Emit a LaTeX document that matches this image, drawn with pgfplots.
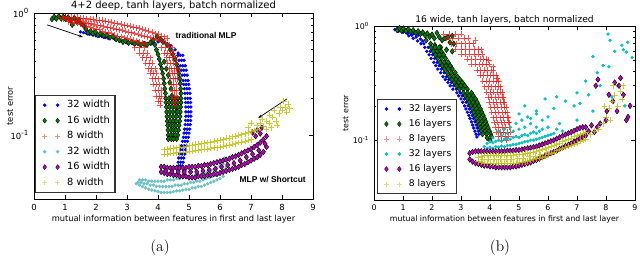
\documentclass[border=0pt]{standalone}
\usepackage{pgfplots}
\pgfplotsset{compat=1.18}
\usepackage{fontspec}
\newfontfamily\djv{DejaVu Sans}
\newfontfamily\lib{Liberation Sans}
\usetikzlibrary{arrows.meta}
\definecolor{mblue}{rgb}{0,0,1}
\definecolor{mgreen}{rgb}{0,0.5,0}
\definecolor{mred}{rgb}{1,0,0}
\definecolor{mcyanA}{rgb}{0.42,0.76,0.76}
\definecolor{mcyan}{rgb}{0.05,0.75,0.75}
\definecolor{mmag}{rgb}{0.75,0,0.75}
\definecolor{myel}{rgb}{0.75,0.75,0}
\pgfplotsset{
  sblue/.style={only marks, mark=*, mark size=1.0pt, mark options={fill=mblue, draw=mblue},
    legend image code/.code={\path (-4pt,0pt) (14pt,0pt);\draw[only marks, mark=*, mark size=0.8pt, mark options={fill=mblue, draw=mblue}] plot coordinates {(0pt,0pt) (9.2pt,0pt)};}},
  scyanA/.style={only marks, mark=*, mark size=1.0pt, mark options={fill=mcyanA, draw=mcyanA},
    legend image code/.code={\path (-4pt,0pt) (14pt,0pt);\draw[only marks, mark=*, mark size=0.8pt, mark options={fill=mcyanA, draw=mcyanA}] plot coordinates {(0pt,0pt) (9.2pt,0pt)};}},
  scyan/.style={only marks, mark=*, mark size=1.0pt, mark options={fill=mcyan, draw=mcyan},
    legend image code/.code={\path (-4pt,0pt) (14pt,0pt);\draw[only marks, mark=*, mark size=0.8pt, mark options={fill=mcyan, draw=mcyan}] plot coordinates {(0pt,0pt) (9.2pt,0pt)};}},
  sgreen/.style={only marks, mark=diamond*, mark size=2.0pt, mark options={fill=mgreen, draw=black, line width=0.3pt},
    legend image code/.code={\path (-4pt,0pt) (14pt,0pt);\draw[only marks, mark=diamond*, mark size=1.8pt, mark options={fill=mgreen, draw=black, line width=0.2pt}] plot coordinates {(0pt,0pt) (9.2pt,0pt)};}},
  smag/.style={only marks, mark=diamond*, mark size=2.0pt, mark options={fill=mmag, draw=black, line width=0.3pt},
    legend image code/.code={\path (-4pt,0pt) (14pt,0pt);\draw[only marks, mark=diamond*, mark size=1.8pt, mark options={fill=mmag, draw=black, line width=0.2pt}] plot coordinates {(0pt,0pt) (9.2pt,0pt)};}},
  sred/.style={only marks, mark=+, mark size=2.1pt, mark options={draw=mred, line width=0.4pt, opacity=0.7},
    legend image code/.code={\path (-4pt,0pt) (14pt,0pt);\draw[only marks, mark=+, mark size=1.8pt, mark options={draw=mred!45, line width=0.4pt}] plot coordinates {(0pt,0pt) (9.2pt,0pt)};}},
  syel/.style={only marks, mark=+, mark size=2.1pt, mark options={draw=myel, line width=0.4pt, opacity=0.8},
    legend image code/.code={\path (-4pt,0pt) (14pt,0pt);\draw[only marks, mark=+, mark size=1.8pt, mark options={draw=myel!50, line width=0.4pt}] plot coordinates {(0pt,0pt) (9.2pt,0pt)};}},
}
\begin{document}
\begin{tikzpicture}
\path[use as bounding box] (0,0) rectangle (16cm,6.4cm);
% ---------------- (a) ----------------
\begin{axis}[
  scale only axis,
  xmin=0, xmax=9, ymode=log, ymin=0.03, ymax=1,
  xtick={0,1,2,3,4,5,6,7,8,9},
  ytick={0.1,1},
  yticklabels={10\textsuperscript{-1},10\textsuperscript{0}},
  /pgf/number format/assume math mode=true,
  major tick length=3pt, minor tick length=1.6pt,
  tick style={black, line width=0.4pt},
  axis line style={line width=0.5pt},
  legend cell align=left,
  at={(0.85cm,1.425cm)}, anchor=south west, width=6.975cm, height=4.65cm,
  tick label style={font=\djv\fontsize{6}{7}\selectfont},
  title={4+2 deep, tanh layers, batch normalized},
  every axis title/.style={at={(0.5,1)}, anchor=base, yshift=3.2pt, font=\djv\fontsize{7.1}{8.5}\selectfont},
  xlabel={mutual information between features in first and last layer},
  ylabel={test error},
  every axis x label/.style={at={(0.5,0)}, anchor=base, yshift=-16.3pt, font=\djv\fontsize{5.9}{7}\selectfont},
  every axis y label/.style={at={(0,0.5)}, xshift=-17pt, rotate=90, anchor=center, font=\djv\fontsize{5.9}{7}\selectfont},
  legend style={font=\djv\fontsize{7}{8}\selectfont, at={(0.004,0.032)}, anchor=south west,
    draw=black!80, line width=0.8pt, fill=white, row sep=1.0pt, nodes={inner sep=1.6pt}, inner sep=2pt},
]
\addplot[sblue] coordinates {
(1.5,0.70)(1.6,0.69)(1.7,0.68)(1.8,0.67)(1.9,0.66)(2.0,0.65)(2.1,0.645)(2.2,0.64)(2.3,0.63)(2.4,0.62)(2.6,0.61)(2.8,0.59)(3.0,0.57)(3.2,0.56)(3.4,0.55)(3.6,0.54)(3.8,0.56)(4.0,0.58)(4.2,0.57)(4.4,0.54)(4.55,0.50)(4.65,0.47)
(4.64,0.45)(4.72,0.45)(4.80,0.45)(4.68,0.41)(4.76,0.41)(4.84,0.41)(4.72,0.37)(4.80,0.37)(4.88,0.37)(4.75,0.34)(4.83,0.34)(4.91,0.34)
(4.78,0.31)(4.86,0.31)(4.94,0.31)(4.81,0.28)(4.89,0.28)(4.97,0.28)(4.83,0.26)(4.91,0.26)(4.99,0.26)(4.85,0.24)(4.93,0.24)(5.01,0.24)
(4.87,0.22)(4.95,0.22)(5.03,0.22)(4.88,0.20)(4.96,0.20)(5.04,0.20)(4.89,0.185)(4.97,0.185)(5.05,0.185)(4.90,0.17)(4.98,0.17)(5.06,0.17)
(4.90,0.155)(4.98,0.155)(5.06,0.155)(4.90,0.143)(4.98,0.143)(5.06,0.143)(4.89,0.132)(4.97,0.132)(5.05,0.132)(4.88,0.122)(4.96,0.122)(5.04,0.122)
(4.86,0.112)(4.94,0.112)(5.02,0.112)(4.84,0.104)(4.92,0.104)(5.00,0.104)(4.82,0.096)(4.90,0.096)(4.98,0.096)(4.79,0.089)(4.87,0.089)(4.95,0.089)
(4.76,0.082)(4.84,0.082)(4.92,0.082)(4.73,0.076)(4.81,0.076)(4.89,0.076)(4.70,0.070)(4.78,0.070)(4.86,0.070)(4.67,0.065)(4.75,0.065)(4.83,0.065)
(4.65,0.060)(4.73,0.060)(4.81,0.060)(4.66,0.056)(4.72,0.056)(4.78,0.056)
};
\addlegendentry{32 width}
\addplot[sgreen] coordinates {
(0.58,0.89)(0.65,0.93)(0.72,0.90)(0.8,0.94)(0.88,0.90)(0.95,0.93)(1.02,0.89)(1.1,0.92)(1.18,0.87)(1.23,0.80)(1.3,0.91)(1.38,0.85)(1.45,0.88)(1.52,0.82)(1.6,0.79)(1.67,0.74)(1.74,0.69)(1.82,0.71)(1.9,0.68)(1.98,0.70)(2.06,0.66)(2.15,0.68)(2.25,0.65)(2.35,0.66)(2.45,0.63)(2.55,0.64)(2.65,0.61)(2.75,0.60)(2.87,0.58)(2.95,0.59)(3.05,0.57)(3.15,0.58)(3.25,0.56)(3.35,0.57)(3.45,0.55)(3.55,0.56)(3.65,0.55)(3.75,0.57)(3.85,0.60)(3.97,0.64)(4.08,0.61)(4.16,0.58)
(3.9,0.55)(3.95,0.50)(4.0,0.46)(4.04,0.42)(4.08,0.38)(4.12,0.35)(4.15,0.32)(4.18,0.29)(4.2,0.265)(4.22,0.24)(4.24,0.22)(4.25,0.20)(4.26,0.185)(4.27,0.17)(4.28,0.155)(4.29,0.142)(4.3,0.13)(4.31,0.12)(4.32,0.11)(4.33,0.10)(4.33,0.093)
(4.3,0.55)(4.4,0.50)(4.48,0.46)(4.55,0.42)(4.6,0.38)(4.64,0.35)(4.67,0.32)(4.7,0.29)(4.72,0.265)(4.73,0.24)(4.74,0.22)(4.74,0.20)(4.74,0.185)(4.73,0.17)(4.72,0.155)(4.71,0.142)(4.7,0.13)(4.68,0.12)(4.66,0.11)(4.64,0.10)(4.6,0.093)
(4.2,0.40)(4.27,0.35)(4.33,0.31)(4.38,0.27)(4.42,0.24)(4.45,0.21)
(4.35,0.20)(4.45,0.20)(4.55,0.20)(4.64,0.20)(4.36,0.185)(4.46,0.185)(4.56,0.185)(4.64,0.185)(4.37,0.17)(4.47,0.17)(4.57,0.17)(4.64,0.17)
(4.38,0.155)(4.48,0.155)(4.58,0.155)(4.63,0.155)(4.39,0.142)(4.49,0.142)(4.59,0.142)(4.4,0.13)(4.5,0.13)(4.59,0.13)
(4.41,0.12)(4.5,0.12)(4.58,0.12)(4.42,0.11)(4.5,0.11)(4.57,0.11)(4.42,0.10)(4.5,0.10)(4.56,0.10)(4.43,0.093)(4.5,0.093)
};
\addlegendentry{16 width}
\addplot[sred] coordinates {
(0.9,0.93)(1.0,0.93)(1.1,0.93)(1.2,0.93)(1.3,0.92)(1.4,0.92)(1.5,0.91)(1.6,0.91)(1.7,0.90)(1.8,0.89)(1.9,0.89)(2.0,0.88)(2.1,0.87)(2.2,0.87)(2.3,0.86)(2.4,0.85)(2.5,0.84)(2.6,0.83)(2.7,0.82)(2.8,0.81)(2.9,0.80)(3.0,0.79)(3.1,0.78)(3.2,0.77)(3.3,0.76)(3.4,0.75)(3.5,0.74)(3.6,0.72)(3.7,0.71)(3.8,0.70)(3.9,0.68)(4.0,0.67)(4.1,0.65)(4.2,0.64)(4.3,0.62)
(0.95,0.89)(1.05,0.89)(1.15,0.88)(1.25,0.87)(1.35,0.87)(1.45,0.86)(1.55,0.85)(1.65,0.84)(1.75,0.83)(1.85,0.82)(1.95,0.81)(2.05,0.80)(2.15,0.79)(2.25,0.78)(2.35,0.77)(2.45,0.76)(2.55,0.75)(2.65,0.74)(2.75,0.73)(2.85,0.72)(2.95,0.71)(3.05,0.70)(3.15,0.69)(3.25,0.68)(3.35,0.67)(3.45,0.66)(3.55,0.65)(3.65,0.64)(3.75,0.63)(3.85,0.62)(3.95,0.61)(4.05,0.60)(4.15,0.59)(4.25,0.57)(4.35,0.55)
(1.1,0.85)(1.2,0.84)(1.3,0.83)(1.4,0.82)(1.5,0.81)(1.6,0.80)(1.7,0.78)(1.8,0.77)(1.9,0.75)(2.0,0.74)(2.1,0.73)(2.2,0.71)(2.3,0.70)(2.4,0.69)(2.5,0.68)(2.6,0.66)(2.7,0.65)(2.8,0.64)(2.9,0.63)(3.0,0.62)(3.1,0.61)(3.2,0.60)(3.3,0.59)(3.4,0.58)(3.5,0.57)(3.6,0.56)
(3.25,0.52)(3.4,0.52)(3.55,0.52)(3.4,0.47)(3.52,0.47)(3.65,0.47)(3.5,0.43)(3.62,0.43)(3.75,0.43)(3.6,0.39)(3.71,0.39)(3.82,0.39)
(3.68,0.35)(3.79,0.35)(3.9,0.35)(3.75,0.32)(3.85,0.32)(3.95,0.32)(3.8,0.29)(3.9,0.29)(4.0,0.29)(3.85,0.26)(3.95,0.26)(4.05,0.26)
(3.9,0.235)(4.0,0.235)(4.1,0.235)(3.95,0.21)(4.04,0.21)(4.12,0.21)(4.0,0.19)(4.08,0.19)(4.06,0.175)
(4.1,0.52)(4.22,0.52)(4.34,0.52)(4.45,0.52)(4.2,0.47)(4.3,0.47)(4.4,0.47)(4.5,0.47)(4.28,0.43)(4.37,0.43)(4.46,0.43)(4.55,0.43)
(4.3,0.39)(4.39,0.39)(4.48,0.39)(4.58,0.39)(4.35,0.35)(4.43,0.35)(4.52,0.35)(4.6,0.35)(4.38,0.32)(4.46,0.32)(4.54,0.32)(4.62,0.32)
(4.4,0.29)(4.48,0.29)(4.56,0.29)(4.62,0.29)(4.42,0.26)(4.5,0.26)(4.58,0.26)(4.45,0.235)(4.52,0.235)(4.6,0.235)
(4.47,0.21)(4.54,0.21)(4.6,0.21)(4.5,0.19)(4.57,0.19)(4.54,0.175)
};
\addlegendentry{8 width}
\addplot[scyanA] coordinates {
(3.3,0.040)(3.4,0.039)(3.5,0.038)(3.6,0.037)(3.7,0.036)(3.8,0.0355)(3.9,0.035)(4.0,0.0345)(4.1,0.034)(4.2,0.034)(4.3,0.034)(4.4,0.034)(4.5,0.0345)(4.6,0.035)(4.7,0.035)(4.8,0.0355)(4.9,0.036)(5.0,0.036)(5.1,0.037)(5.2,0.037)(5.3,0.038)(5.4,0.038)(5.5,0.039)(5.6,0.040)(5.7,0.041)(5.8,0.042)(5.9,0.043)(6.0,0.044)(6.1,0.046)
(3.35,0.041)(3.45,0.041)(3.55,0.040)(3.65,0.040)(3.75,0.039)(3.85,0.039)(3.95,0.038)(4.05,0.038)(4.15,0.038)(4.25,0.038)(4.35,0.038)(4.45,0.038)(4.55,0.039)(4.65,0.039)(4.75,0.039)(4.85,0.040)(4.95,0.040)(5.05,0.041)(5.15,0.041)(5.25,0.042)(5.35,0.042)(5.45,0.043)(5.55,0.044)(5.65,0.045)(5.75,0.046)(5.85,0.047)(5.95,0.048)(6.05,0.050)(6.15,0.052)(6.2,0.055)
(3.4,0.043)(3.5,0.043)(3.6,0.043)(3.7,0.042)(3.8,0.042)(3.9,0.042)(4.0,0.042)(4.1,0.042)(4.2,0.042)(4.3,0.043)(4.4,0.043)(4.5,0.043)(4.6,0.044)(4.7,0.044)(4.8,0.045)(4.9,0.045)(5.0,0.046)(5.1,0.046)(5.2,0.047)(5.3,0.047)(5.4,0.048)(5.5,0.049)(5.6,0.050)(5.7,0.051)(5.8,0.052)(5.9,0.054)(6.0,0.056)(6.1,0.058)(6.2,0.062)(6.15,0.065)(6.05,0.060)
};
\addlegendentry{32 width}
\addplot[smag] coordinates {
(4.1,0.050)(4.2,0.049)(4.3,0.048)(4.4,0.048)(4.5,0.047)(4.6,0.047)(4.7,0.046)(4.8,0.046)(4.9,0.046)(5.0,0.045)(5.1,0.045)(5.2,0.045)(5.3,0.046)(5.4,0.046)(5.5,0.046)(5.6,0.047)(5.7,0.047)(5.8,0.048)(5.9,0.048)(6.0,0.049)(6.1,0.050)(6.2,0.051)(6.3,0.052)(6.4,0.053)(6.5,0.054)(6.6,0.055)(6.7,0.057)(6.8,0.058)(6.9,0.060)(7.0,0.062)(7.1,0.064)(7.2,0.066)(7.3,0.069)(7.4,0.073)(7.5,0.080)
(4.1,0.055)(4.2,0.055)(4.3,0.054)(4.4,0.054)(4.5,0.054)(4.6,0.054)(4.7,0.054)(4.8,0.054)(4.9,0.054)(5.0,0.055)(5.1,0.055)(5.2,0.055)(5.3,0.056)(5.4,0.056)(5.5,0.057)(5.6,0.057)(5.7,0.058)(5.8,0.059)(5.9,0.060)(6.0,0.061)(6.1,0.062)(6.2,0.063)(6.3,0.064)(6.4,0.066)(6.5,0.067)(6.6,0.069)(6.7,0.071)(6.8,0.073)(6.9,0.075)(7.0,0.077)(7.1,0.080)(7.2,0.083)(7.3,0.087)(7.4,0.092)(7.5,0.098)
(4.25,0.051)(4.45,0.050)(4.65,0.050)(4.85,0.050)(5.05,0.050)(5.25,0.050)(5.45,0.051)(5.65,0.052)(5.85,0.053)(6.05,0.055)(6.25,0.057)(6.45,0.059)(6.65,0.062)(6.85,0.066)(7.05,0.070)(7.25,0.075)(7.45,0.085)
(7.05,0.105)(7.2,0.11)(7.35,0.115)(7.3,0.103)(7.15,0.098)
};
\addlegendentry{16 width}
\addplot[syel] coordinates {
(4.2,0.070)(4.3,0.070)(4.4,0.071)(4.5,0.071)(4.6,0.072)(4.7,0.072)(4.8,0.073)(4.9,0.073)(5.0,0.074)(5.1,0.074)(5.2,0.075)(5.3,0.075)(5.4,0.076)(5.5,0.077)(5.6,0.077)(5.7,0.078)(5.8,0.079)(5.9,0.079)(6.0,0.080)(6.1,0.081)(6.2,0.082)(6.3,0.083)(6.4,0.084)(6.5,0.085)(6.6,0.087)(6.7,0.088)(6.8,0.089)(6.9,0.091)(7.0,0.092)
(4.2,0.076)(4.3,0.077)(4.4,0.078)(4.5,0.078)(4.6,0.079)(4.7,0.080)(4.8,0.080)(4.9,0.081)(5.0,0.082)(5.1,0.083)(5.2,0.084)(5.3,0.084)(5.4,0.085)(5.5,0.086)(5.6,0.087)(5.7,0.088)(5.8,0.089)(5.9,0.090)(6.0,0.091)(6.1,0.092)(6.2,0.094)(6.3,0.095)(6.4,0.097)(6.5,0.098)(6.6,0.100)(6.7,0.101)(6.8,0.103)(6.9,0.105)(7.0,0.107)(7.1,0.109)(7.2,0.111)
(7.2,0.12)(7.4,0.118)(7.5,0.13)(7.6,0.125)(7.7,0.14)(7.8,0.13)(7.9,0.15)(8.0,0.16)(8.1,0.17)(8.2,0.18)(8.15,0.155)(7.95,0.17)(7.6,0.145)(7.35,0.135)(7.75,0.16)(8.05,0.19)(7.0,0.125)(6.9,0.115)(7.5,0.112)(7.85,0.12)(8.25,0.165)(7.3,0.125)(7.65,0.115)
};
\addlegendentry{8 width}
\draw[-{Stealth[length=3pt,width=2pt]}, line width=0.5pt] (axis cs:0.42,0.80) -- (axis cs:1.58,0.636);
\draw[-{Stealth[length=3pt,width=2pt]}, line width=0.5pt] (axis cs:8.16,0.198) -- (axis cs:7.23,0.138);
\node[font=\lib\bfseries\fontsize{6}{7}\selectfont] at (axis cs:5.55,0.66) {traditional MLP};
\node[font=\lib\bfseries\fontsize{6}{7}\selectfont] at (axis cs:7.7,0.043) {MLP w/ Shortcut};
\end{axis}
% ---------------- (b) ----------------
\begin{axis}[
  scale only axis,
  xmin=0, xmax=9, ymode=log, ymin=0.03, ymax=1,
  xtick={0,1,2,3,4,5,6,7,8,9},
  ytick={0.1,1},
  yticklabels={10\textsuperscript{-1},10\textsuperscript{0}},
  /pgf/number format/assume math mode=true,
  major tick length=3pt, minor tick length=1.6pt,
  tick style={black, line width=0.4pt},
  axis line style={line width=0.5pt},
  legend cell align=left,
  at={(9.35cm,1.4cm)}, anchor=south west, width=6.525cm, height=4.35cm,
  tick label style={font=\djv\fontsize{5.6}{6.5}\selectfont},
  title={16 wide, tanh layers, batch normalized},
  every axis title/.style={at={(0.5,1)}, anchor=base, yshift=2.8pt, font=\djv\fontsize{6.5}{8}\selectfont},
  xlabel={mutual information between features in first and last layer},
  ylabel={test error},
  every axis x label/.style={at={(0.5,0)}, anchor=base, yshift=-15.2pt, font=\djv\fontsize{5.55}{6.5}\selectfont},
  every axis y label/.style={at={(0,0.5)}, xshift=-20.2pt, rotate=90, anchor=center, font=\djv\fontsize{5.55}{6.5}\selectfont},
  legend style={font=\djv\fontsize{6.55}{7.5}\selectfont, at={(0.011,0.034)}, anchor=south west,
    draw=black!80, line width=0.8pt, fill=white, row sep=1.2pt, nodes={inner sep=1.5pt}, inner sep=2pt},
]
\addplot[sblue] coordinates {
(0.72,0.93)(0.8,0.95)(0.85,0.90)(0.92,0.94)(1.0,0.88)(1.08,0.91)(1.15,0.86)(1.22,0.89)(1.3,0.83)(1.38,0.86)(1.45,0.80)(1.52,0.83)(1.6,0.77)(1.68,0.74)(1.72,0.70)(1.2,0.82)(1.35,0.78)(1.5,0.74)(1.62,0.70)
(1.75,0.65)(1.87,0.65)(1.82,0.60)(1.94,0.60)(1.9,0.56)(2.02,0.56)(1.97,0.52)(2.09,0.52)(2.06,0.48)(2.18,0.48)(2.13,0.45)(2.25,0.45)(2.2,0.42)(2.32,0.42)(2.3,0.39)(2.42,0.39)
(2.38,0.36)(2.5,0.36)(2.46,0.34)(2.58,0.34)(2.55,0.32)(2.67,0.32)(2.63,0.30)(2.75,0.30)(2.72,0.28)(2.84,0.28)(2.86,0.26)(2.98,0.26)(2.92,0.245)(3.04,0.245)(3.0,0.23)(3.12,0.23)
(3.06,0.215)(3.18,0.215)(3.12,0.20)(3.24,0.20)(3.17,0.188)(3.29,0.188)(3.22,0.176)(3.34,0.176)(3.27,0.165)(3.39,0.165)(3.31,0.155)(3.43,0.155)(3.36,0.145)(3.48,0.145)
(3.4,0.136)(3.52,0.136)(3.44,0.128)(3.56,0.128)(3.48,0.12)(3.6,0.12)(3.52,0.113)(3.62,0.113)(3.55,0.107)
};
\addlegendentry{32 layers}
\addplot[sgreen] coordinates {
(0.8,0.92)(0.88,0.96)(0.95,0.91)(1.02,0.95)(1.1,0.90)(1.18,0.94)(1.26,0.89)(1.35,0.92)(1.44,0.87)(1.52,0.90)(1.6,0.85)(1.68,0.88)(1.76,0.83)(1.84,0.86)(1.92,0.80)(2.0,0.84)(2.08,0.78)(2.17,0.87)(2.25,0.80)(2.35,0.75)(2.45,0.78)(2.55,0.80)(2.62,0.72)(2.7,0.82)(2.75,0.70)(1.8,0.75)(1.95,0.70)(2.1,0.68)(2.3,0.65)(2.5,0.62)(2.7,0.60)
(1.97,0.65)(2.11,0.65)(2.25,0.65)(2.04,0.60)(2.18,0.60)(2.32,0.60)(2.12,0.56)(2.26,0.56)(2.4,0.56)(2.19,0.52)(2.33,0.52)(2.47,0.52)
(2.28,0.48)(2.42,0.48)(2.56,0.48)(2.35,0.45)(2.49,0.45)(2.63,0.45)(2.42,0.42)(2.56,0.42)(2.7,0.42)(2.52,0.39)(2.66,0.39)(2.8,0.39)
(2.6,0.36)(2.74,0.36)(2.88,0.36)(2.68,0.34)(2.82,0.34)(2.96,0.34)(2.77,0.32)(2.91,0.32)(3.05,0.32)(2.85,0.30)(2.99,0.30)(3.13,0.30)
(2.94,0.28)(3.08,0.28)(3.22,0.28)(3.08,0.26)(3.22,0.26)(3.36,0.26)(3.14,0.245)(3.28,0.245)(3.42,0.245)(3.22,0.23)(3.36,0.23)(3.5,0.23)
(3.28,0.215)(3.42,0.215)(3.56,0.215)(3.34,0.20)(3.48,0.20)(3.62,0.20)(3.39,0.188)(3.53,0.188)(3.67,0.188)(3.44,0.176)(3.58,0.176)(3.72,0.176)
(3.49,0.165)(3.63,0.165)(3.77,0.165)(3.53,0.155)(3.67,0.155)(3.81,0.155)(3.58,0.145)(3.72,0.145)(3.86,0.145)(3.62,0.136)(3.76,0.136)(3.9,0.136)
(3.66,0.128)(3.8,0.128)(3.94,0.128)(3.7,0.12)(3.84,0.12)(3.98,0.12)(3.74,0.113)(3.88,0.113)(4.02,0.113)(3.9,0.105)(4.0,0.10)(4.05,0.108)
};
\addlegendentry{16 layers}
\addplot[sred] coordinates {
(2.4,0.85)(2.6,0.85)(2.8,0.85)(3.0,0.85)(3.5,0.75)(3.7,0.62)(3.95,0.50)(4.1,0.44)(4.25,0.35)
(2.5,0.78)(2.7,0.78)(2.9,0.78)(3.1,0.78)(3.25,0.78)
(2.65,0.70)(2.85,0.70)(3.0,0.70)(3.15,0.70)(3.3,0.70)(3.42,0.70)
(2.8,0.63)(3.0,0.63)(3.15,0.63)(3.3,0.63)(3.45,0.63)(3.58,0.63)
(3.0,0.57)(3.15,0.57)(3.3,0.57)(3.45,0.57)(3.6,0.57)(3.72,0.57)
(3.2,0.51)(3.35,0.51)(3.5,0.51)(3.65,0.51)(3.78,0.51)(3.88,0.51)
(3.35,0.46)(3.5,0.46)(3.62,0.46)(3.75,0.46)(3.86,0.46)(3.96,0.46)
(3.55,0.41)(3.67,0.41)(3.79,0.41)(3.91,0.41)(4.03,0.41)(4.12,0.41)
(3.65,0.37)(3.77,0.37)(3.89,0.37)(4.01,0.37)(4.13,0.37)(4.22,0.37)
(3.75,0.33)(3.87,0.33)(3.99,0.33)(4.11,0.33)(4.23,0.33)(4.3,0.33)
(3.82,0.295)(3.94,0.295)(4.06,0.295)(4.18,0.295)(4.3,0.295)(4.36,0.295)
(3.88,0.265)(4.0,0.265)(4.12,0.265)(4.24,0.265)(4.36,0.265)(4.42,0.265)
(3.93,0.24)(4.05,0.24)(4.17,0.24)(4.29,0.24)(4.41,0.24)(4.46,0.24)
(3.98,0.215)(4.1,0.215)(4.22,0.215)(4.34,0.215)(4.46,0.215)(4.5,0.215)
(4.02,0.195)(4.14,0.195)(4.26,0.195)(4.38,0.195)(4.5,0.195)(4.55,0.195)
(4.06,0.175)(4.18,0.175)(4.3,0.175)(4.42,0.175)(4.54,0.175)(4.6,0.175)
(4.1,0.158)(4.22,0.158)(4.34,0.158)(4.46,0.158)(4.58,0.158)(4.63,0.158)
(4.14,0.143)(4.26,0.143)(4.38,0.143)(4.5,0.143)(4.62,0.143)(4.66,0.143)
(4.18,0.13)(4.3,0.13)(4.42,0.13)(4.54,0.13)(4.66,0.13)
(4.22,0.118)(4.34,0.118)(4.46,0.118)(4.58,0.118)(4.7,0.118)
(4.28,0.108)(4.4,0.108)(4.52,0.108)(4.64,0.108)(4.4,0.10)(4.55,0.10)
};
\addlegendentry{8 layers}
\addplot[scyan] coordinates {
(3.8,0.088)(3.9,0.085)(4.0,0.087)(4.1,0.085)(4.2,0.088)(4.3,0.087)(4.4,0.089)(4.5,0.088)(4.6,0.090)(4.7,0.090)(4.8,0.092)(4.9,0.092)(5.0,0.094)(5.1,0.095)(5.2,0.097)(5.3,0.098)(5.4,0.100)(5.5,0.100)(5.6,0.102)(5.7,0.104)(5.8,0.106)(5.9,0.108)(6.0,0.110)(6.1,0.112)(6.2,0.115)
(3.9,0.094)(4.0,0.097)(4.1,0.095)(4.2,0.098)(4.3,0.100)(4.4,0.098)(4.5,0.102)(4.6,0.104)(4.7,0.102)(4.8,0.106)(4.9,0.108)(5.0,0.106)(5.1,0.110)(5.2,0.112)(5.3,0.110)(5.4,0.115)(5.5,0.118)(5.6,0.115)(5.7,0.120)
(4.4,0.11)(4.6,0.115)(4.8,0.12)(5.0,0.125)(4.5,0.125)(4.7,0.13)(4.9,0.14)(5.2,0.13)(5.4,0.14)(5.1,0.15)(5.3,0.16)(4.3,0.12)(4.1,0.105)(5.6,0.13)(5.8,0.125)(6.0,0.13)(6.3,0.125)(6.5,0.12)
(5.4,0.155)(5.6,0.17)(5.6,0.18)(5.8,0.15)(6.0,0.16)(6.2,0.19)(6.4,0.14)(6.6,0.22)(6.8,0.12)(6.9,0.20)(7.0,0.26)(7.0,0.15)(7.1,0.21)(7.55,0.18)(7.55,0.54)(7.7,0.39)(7.8,0.30)(7.9,0.45)(8.07,0.85)(8.1,0.44)(8.14,0.75)(8.3,0.60)(8.55,0.68)(8.6,0.62)(8.7,0.59)(8.75,0.72)(8.9,0.53)(5.0,0.17)(5.2,0.20)(6.3,0.24)(5.9,0.23)(7.3,0.33)(8.4,0.30)(8.65,0.20)(8.2,0.24)(7.4,0.25)
};
\addlegendentry{32 layers}
\addplot[smag] coordinates {
(3.3,0.068)(3.4,0.065)(3.5,0.063)(3.6,0.062)(3.7,0.061)(3.8,0.060)(3.9,0.060)(4.0,0.059)(4.1,0.059)(4.2,0.058)(4.3,0.058)(4.4,0.058)(4.5,0.058)(4.6,0.058)(4.7,0.058)(4.8,0.059)(4.9,0.059)(5.0,0.060)(5.1,0.061)(5.2,0.062)(5.3,0.063)(5.4,0.064)(5.5,0.066)(5.6,0.067)(5.7,0.069)(5.8,0.071)(5.9,0.073)(6.0,0.075)(6.1,0.077)(6.2,0.079)(6.3,0.081)(6.4,0.084)(6.5,0.086)(6.6,0.089)(6.7,0.091)(6.8,0.094)(6.9,0.097)(7.0,0.100)(7.1,0.104)(7.2,0.107)(7.3,0.110)
(3.3,0.077)(3.4,0.079)(3.5,0.080)(3.6,0.080)(3.7,0.080)(3.8,0.080)(3.9,0.080)(4.0,0.080)(4.1,0.080)(4.2,0.080)(4.3,0.080)(4.4,0.080)(4.5,0.080)(4.6,0.081)(4.7,0.081)(4.8,0.081)(4.9,0.082)(5.0,0.082)(5.1,0.083)(5.2,0.084)(5.3,0.085)(5.4,0.086)(5.5,0.087)(5.6,0.088)(5.7,0.090)(5.8,0.092)(5.9,0.094)(6.0,0.096)(6.1,0.098)(6.2,0.100)(6.3,0.103)(6.4,0.106)(6.5,0.109)(6.6,0.112)(6.7,0.115)(6.8,0.118)(6.9,0.121)(7.0,0.125)(7.1,0.128)(7.2,0.130)(7.3,0.130)
(7.4,0.12)(7.5,0.135)(7.6,0.118)(7.7,0.13)(7.8,0.14)(8.0,0.15)
(7.72,0.34)(8.3,0.32)(8.45,0.30)(8.38,0.18)(8.76,0.16)(8.83,0.20)(8.03,0.18)(8.24,0.22)(8.7,0.15)(8.6,0.25)(7.65,0.30)(8.1,0.25)(8.5,0.35)
};
\addlegendentry{16 layers}
\addplot[syel] coordinates {
(3.6,0.065)(3.7,0.064)(3.8,0.063)(3.9,0.063)(4.0,0.063)(4.1,0.063)(4.2,0.063)(4.3,0.063)(4.4,0.063)(4.5,0.063)(4.6,0.063)(4.7,0.063)(4.8,0.063)(4.9,0.063)(5.0,0.064)(5.1,0.064)(5.2,0.065)(5.3,0.066)(5.4,0.067)(5.5,0.068)(5.6,0.069)(5.7,0.070)(5.8,0.071)(5.9,0.073)(6.0,0.075)(6.1,0.077)(6.2,0.079)(6.3,0.081)(6.4,0.083)(6.5,0.085)(6.6,0.087)(6.7,0.089)(6.8,0.091)(6.9,0.093)(7.0,0.095)(7.1,0.098)(7.2,0.100)(7.3,0.103)
(3.6,0.071)(3.7,0.073)(3.8,0.074)(3.9,0.074)(4.0,0.074)(4.1,0.074)(4.2,0.074)(4.3,0.074)(4.4,0.074)(4.5,0.074)(4.6,0.074)(4.7,0.074)(4.8,0.074)(4.9,0.075)(5.0,0.075)(5.1,0.076)(5.2,0.077)(5.3,0.077)(5.4,0.078)(5.5,0.079)(5.6,0.080)(5.7,0.081)(5.8,0.083)(5.9,0.085)(6.0,0.087)(6.1,0.089)(6.2,0.091)(6.3,0.093)(6.4,0.095)(6.5,0.098)(6.6,0.100)(6.7,0.103)(6.8,0.105)(6.9,0.108)(7.0,0.110)(7.1,0.112)(7.2,0.115)(7.3,0.117)
(3.75,0.068)(3.95,0.068)(4.15,0.068)(4.35,0.068)(4.55,0.068)(4.75,0.068)(4.95,0.069)(5.15,0.070)(5.35,0.072)(5.55,0.073)(5.75,0.075)(5.95,0.079)
(7.45,0.112)(7.6,0.12)(7.75,0.125)(7.9,0.14)(8.0,0.16)(8.1,0.19)(8.2,0.22)(8.3,0.25)(8.4,0.20)(8.5,0.27)(8.55,0.23)(8.6,0.30)(8.25,0.30)(7.95,0.20)(8.15,0.15)
};
\addlegendentry{8 layers}
\end{axis}
\node[font=\fontsize{11}{13}\selectfont] at (4.0cm,0.22cm) {(a)};
\node[font=\fontsize{11}{13}\selectfont] at (12.5cm,0.22cm) {(b)};
\end{tikzpicture}
\end{document}
